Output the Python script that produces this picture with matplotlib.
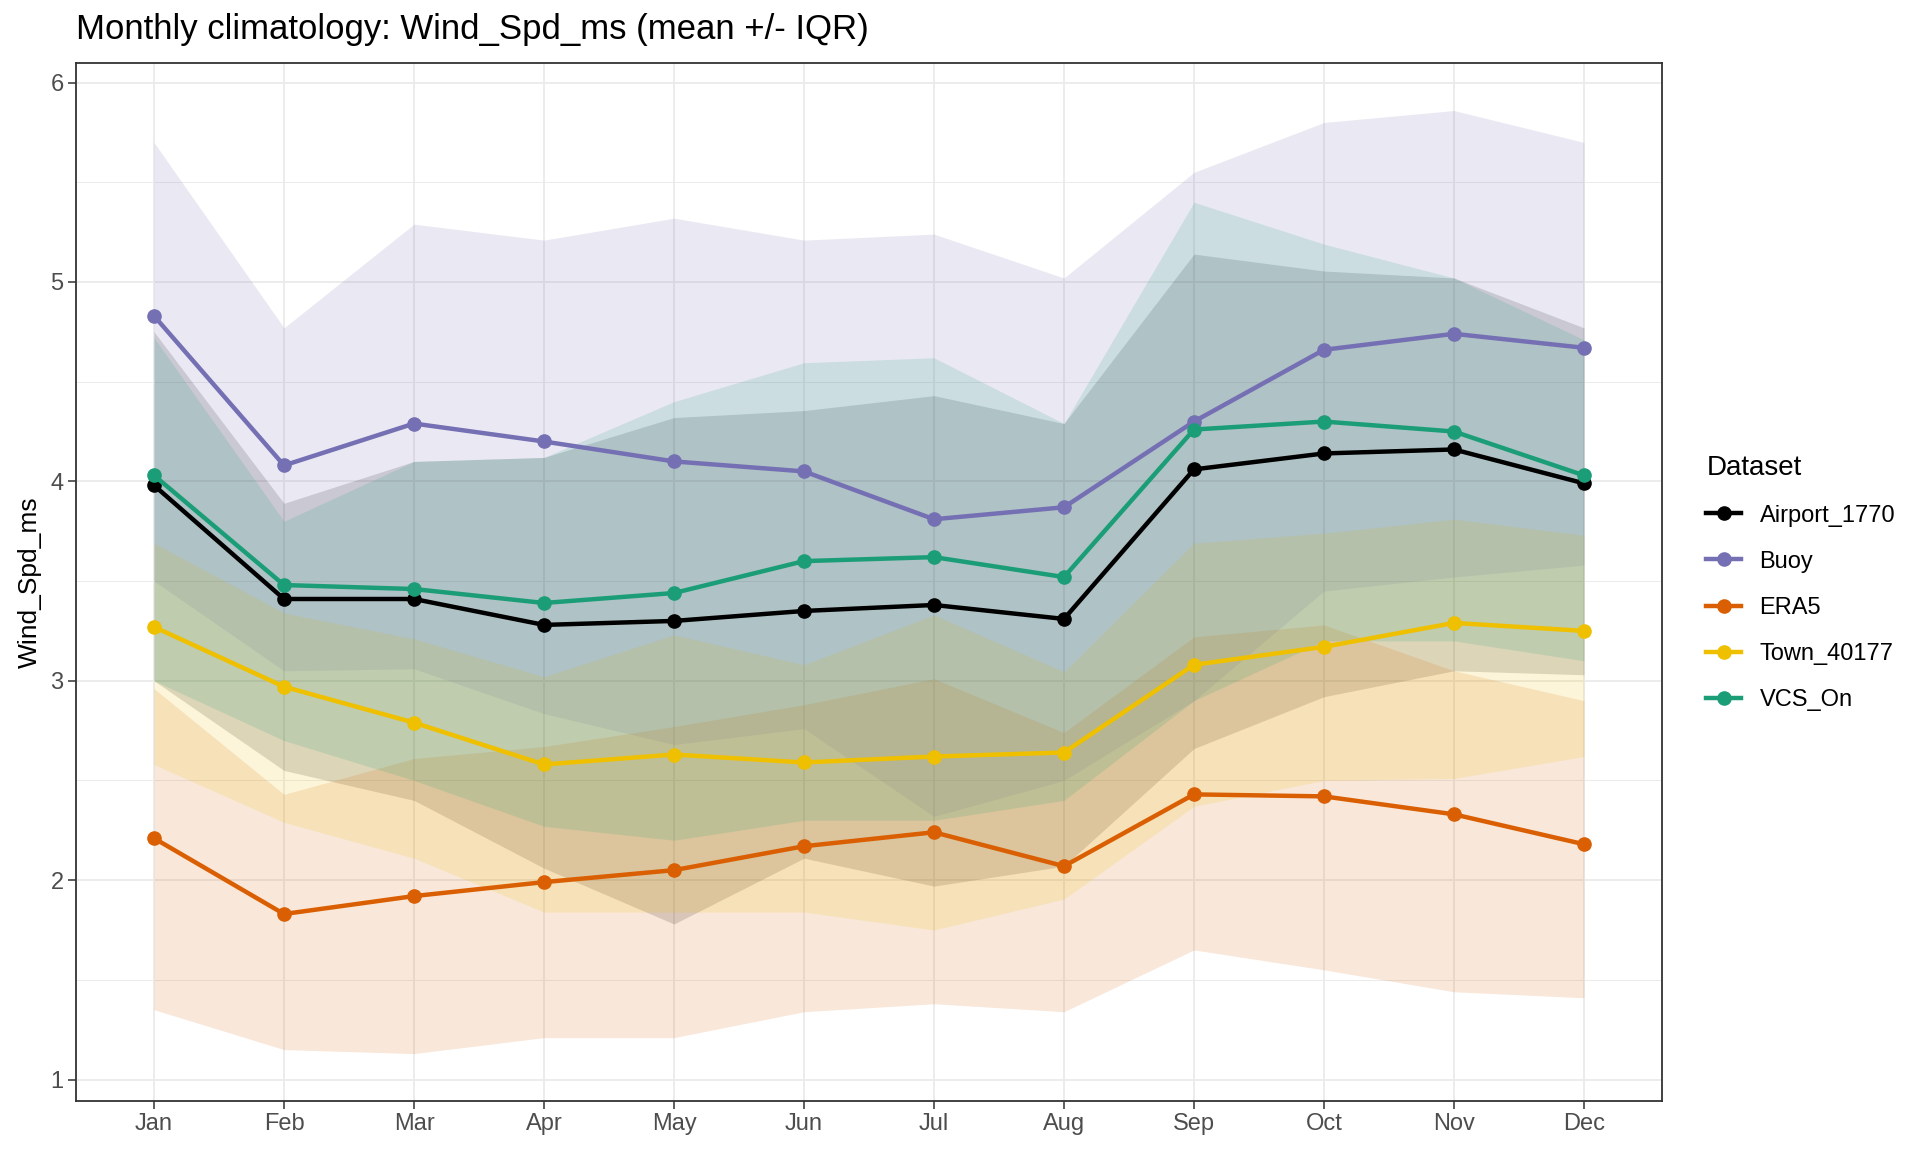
import matplotlib
matplotlib.use("Agg")
import matplotlib.pyplot as plt
from matplotlib.lines import Line2D
import numpy as np

plt.rcParams['font.family'] = ['Liberation Sans', 'DejaVu Sans']

months = ['Jan', 'Feb', 'Mar', 'Apr', 'May', 'Jun',
          'Jul', 'Aug', 'Sep', 'Oct', 'Nov', 'Dec']
datasets = ['Airport_1770', 'Buoy', 'ERA5', 'Town_40177', 'VCS_On']
colors = ['#000000', '#7570B3', '#D95F02', '#EFC000', '#1B9E77']

# monthly means
airport_mean = [3.98, 3.41, 3.41, 3.28, 3.30, 3.35, 3.38, 3.31, 4.06, 4.14, 4.16, 3.99]
buoy_mean = [4.83, 4.08, 4.29, 4.20, 4.10, 4.05, 3.81, 3.87, 4.30, 4.66, 4.74, 4.67]
era5_mean = [2.21, 1.83, 1.92, 1.99, 2.05, 2.17, 2.24, 2.07, 2.43, 2.42, 2.33, 2.18]
town_mean = [3.27, 2.97, 2.79, 2.58, 2.63, 2.59, 2.62, 2.64, 3.08, 3.17, 3.29, 3.25]
vcs_mean = [4.03, 3.48, 3.46, 3.39, 3.44, 3.60, 3.62, 3.52, 4.26, 4.30, 4.25, 4.03]

# interquartile range bounds
airport_q75 = [4.75, 3.89, 4.10, 4.12, 4.32, 4.355, 4.43, 4.29, 5.14, 5.055, 5.02, 4.77]
airport_q25 = [3.00, 2.55, 2.40, 2.06, 1.78, 2.11, 1.97, 2.07, 2.66, 2.92, 3.05, 3.03]
buoy_q75 = [5.70, 4.77, 5.29, 5.21, 5.32, 5.21, 5.24, 5.02, 5.55, 5.80, 5.86, 5.70]
buoy_q25 = [3.50, 3.05, 3.06, 2.835, 2.68, 2.76, 2.32, 2.50, 2.90, 3.45, 3.52, 3.58]
era5_q75 = [2.96, 2.43, 2.61, 2.67, 2.77, 2.88, 3.01, 2.74, 3.22, 3.28, 3.05, 2.90]
era5_q25 = [1.35, 1.15, 1.13, 1.21, 1.21, 1.34, 1.38, 1.34, 1.65, 1.55, 1.44, 1.41]
town_q75 = [3.69, 3.34, 3.21, 3.02, 3.23, 3.08, 3.33, 3.045, 3.69, 3.74, 3.81, 3.73]
town_q25 = [2.58, 2.29, 2.11, 1.84, 1.84, 1.84, 1.75, 1.905, 2.37, 2.50, 2.51, 2.62]
vcs_q75 = [4.72, 3.80, 4.10, 4.12, 4.40, 4.595, 4.62, 4.29, 5.40, 5.19, 5.02, 4.71]
vcs_q25 = [3.00, 2.70, 2.50, 2.27, 2.20, 2.30, 2.30, 2.40, 2.90, 3.20, 3.20, 3.10]

means = [airport_mean, buoy_mean, era5_mean, town_mean, vcs_mean]
uppers = [airport_q75, buoy_q75, era5_q75, town_q75, vcs_q75]
lowers = [airport_q25, buoy_q25, era5_q25, town_q25, vcs_q25]

x = np.arange(1, len(months) + 1)

fig = plt.figure(figsize=(19.2, 11.52), dpi=100)
ax = fig.add_axes([0.0396, 0.0445, 0.826, 0.9005])

# ribbons first, then the lines, like ggplot layers
for lo, hi, c in zip(lowers, uppers, colors):
    ax.fill_between(x, lo, hi, color=c, alpha=0.15, linewidth=0, zorder=2)

for m, c in zip(means, colors):
    ax.plot(x, m, color=c, lw=3.2, marker='o', markersize=9.5, zorder=3)

ymin = min(min(v) for v in lowers)
ymax = max(max(v) for v in uppers)
pad = (ymax - ymin) * 0.05
ax.set_ylim(ymin - pad, ymax + pad)
ax.set_xlim(0.4, len(months) + 0.6)

ax.set_xticks(x)
ax.set_xticklabels(months)
ax.set_yticks([1, 2, 3, 4, 5, 6])
ax.set_yticks([1.5, 2.5, 3.5, 4.5, 5.5], minor=True)
ax.tick_params(axis='both', which='major', labelsize=17, colors='#333333',
               labelcolor='#4D4D4D', length=5.5, width=1.1)
ax.tick_params(axis='y', which='minor', length=0)
ax.grid(True, which='major', color='#EBEBEB', lw=1.3, zorder=0)
ax.grid(True, which='minor', axis='y', color='#EBEBEB', lw=0.7, zorder=0)
ax.set_axisbelow(True)
for s in ax.spines.values():
    s.set_color('#333333')
    s.set_linewidth(1.3)

fig.text(0.0396, 0.974, 'Monthly climatology: Wind_Spd_ms (mean +/- IQR)',
         fontsize=25, va='center', ha='left')
fig.text(0.0155, 0.495, 'Wind_Spd_ms', fontsize=19, rotation=90,
         va='center', ha='center')

handles = [Line2D([0], [0], color=c, lw=3.2, marker='o', markersize=9.5)
           for c in colors]
leg = ax.legend(handles, datasets, loc='upper left', title='Dataset',
                bbox_to_anchor=(0.874, 0.630), bbox_transform=fig.transFigure,
                frameon=False, fontsize=17, title_fontsize=20,
                handlelength=1.45, handletextpad=0.8, labelspacing=1.02,
                borderpad=0.7)
leg._legend_box.align = 'left'

fig.savefig('out.png', dpi=100)
